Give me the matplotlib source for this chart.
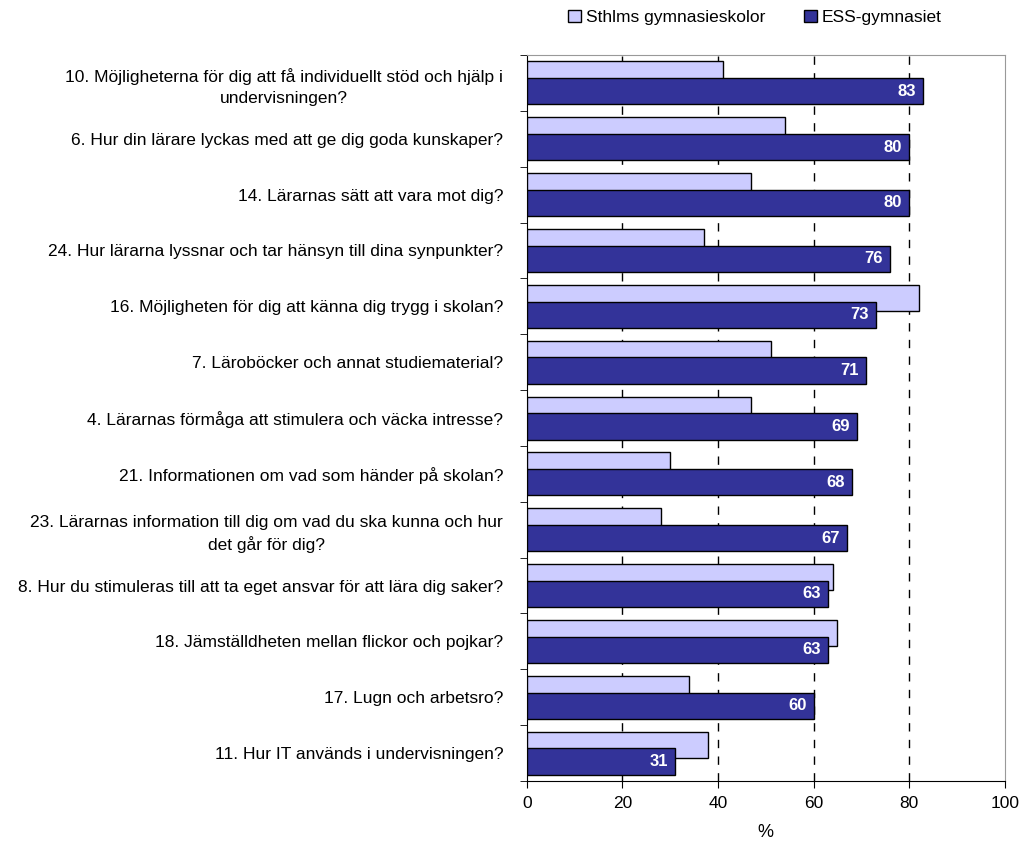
import matplotlib.pyplot as plt
import numpy as np

plt.rcParams['font.family'] = ['Liberation Sans', 'DejaVu Sans']

fragor = [
    "10. Möjligheterna för dig att få individuellt stöd och hjälp i\nundervisningen?",
    "6. Hur din lärare lyckas med att ge dig goda kunskaper?",
    "14. Lärarnas sätt att vara mot dig?",
    "24. Hur lärarna lyssnar och tar hänsyn till dina synpunkter?",
    "16. Möjligheten för dig att känna dig trygg i skolan?",
    "7. Läroböcker och annat studiematerial?",
    "4. Lärarnas förmåga att stimulera och väcka intresse?",
    "21. Informationen om vad som händer på skolan?",
    "23. Lärarnas information till dig om vad du ska kunna och hur\ndet går för dig?",
    "8. Hur du stimuleras till att ta eget ansvar för att lära dig saker?",
    "18. Jämställdheten mellan flickor och pojkar?",
    "17. Lugn och arbetsro?",
    "11. Hur IT används i undervisningen?",
]
sthlm = [41, 54, 47, 37, 82, 51, 47, 30, 28, 64, 65, 34, 38]
ess = [83, 80, 80, 76, 73, 71, 69, 68, 67, 63, 63, 60, 31]

fig = plt.figure(figsize=(10.19, 8.42), dpi=100)
ax = fig.add_axes([0.517, 0.0724, 0.469, 0.8623])

y = np.arange(len(fragor))
h = 0.47
ax.barh(y - 0.15, sthlm, height=h, color='#CCCCFF', edgecolor='black', linewidth=1,
        label='Sthlms gymnasieskolor', zorder=3)
bars = ax.barh(y + 0.15, ess, height=h, color='#333399', edgecolor='black', linewidth=1,
               label='ESS-gymnasiet', zorder=4)

for bar in bars:
    w = bar.get_width()
    ax.text(w - 1.5, bar.get_y() + bar.get_height() / 2, f'{w:.0f}',
            ha='right', va='center', color='white', fontweight='bold', fontsize=12, zorder=5)

ax.set_xlim(0, 100)
ax.set_ylim(len(fragor) - 0.5, -0.5)
ax.set_xticks([0, 20, 40, 60, 80, 100])
ax.tick_params(axis='x', labelsize=12.5, direction='out', length=5, pad=6)
ax.set_yticks(y)
ax.set_yticklabels(fragor, fontsize=12.5)
for lab in ax.get_yticklabels():
    lab.set_multialignment('center')
    lab.set_linespacing(1.45)
ax.tick_params(axis='y', which='major', length=0, pad=17)
ax.set_yticks(np.arange(-0.5, len(fragor), 1), minor=True)
ax.tick_params(axis='y', which='minor', length=5, direction='out')

for xv in [20, 40, 60, 80]:
    ax.axvline(xv, color='black', linestyle=(0, (6, 6)), linewidth=1, zorder=1)

for s in ['top', 'right']:
    ax.spines[s].set_color('#999999')
ax.set_xlabel('%', fontsize=13, labelpad=9)

ax.legend(loc='center', bbox_to_anchor=(0.477, 1.052), ncol=2, frameon=False, fontsize=12.5,
          handlelength=0.75, handleheight=0.75, handletextpad=0.3, columnspacing=2.2)

fig.savefig('out.png', dpi=100)
